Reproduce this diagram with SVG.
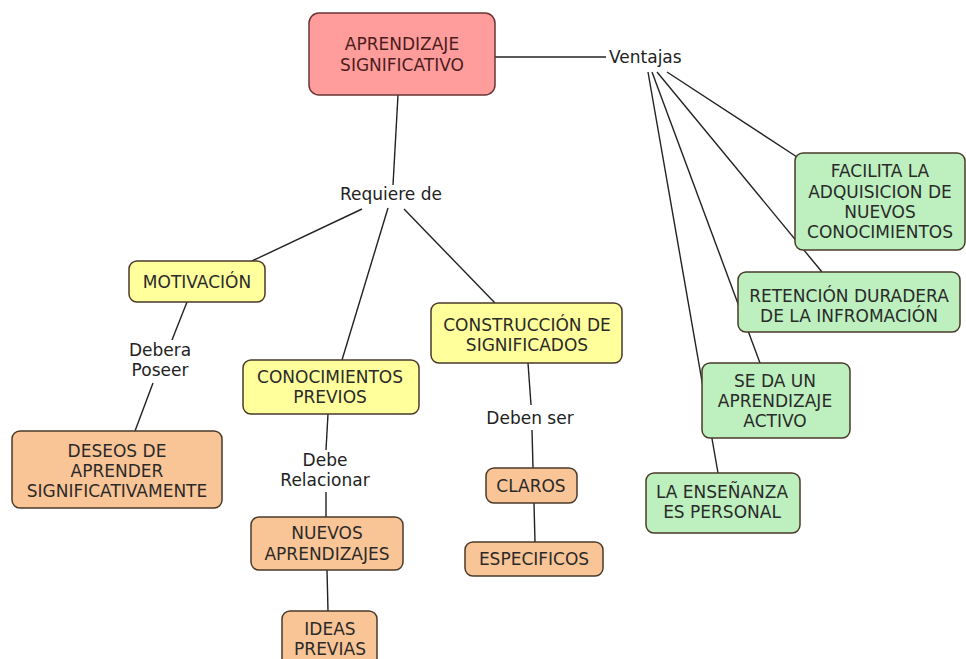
<svg xmlns="http://www.w3.org/2000/svg" width="966" height="659" viewBox="0 0 966 659">
<style>
  .box { stroke: #4a3a2a; stroke-width: 1.5; }
  .main { fill: #FF9C9C; stroke: #6a3535; stroke-width: 1.5; }
  .yel { fill: #FFFF9C; }
  .org { fill: #FAC596; }
  .grn { fill: #BDF0BE; }
  text { font-family: "DejaVu Sans", Verdana, sans-serif; font-size: 17px; fill: #2a2a2a; text-anchor: middle; }
  .mt { fill: #4a1c1c; }
  .lk { fill: #222; }
  .conn line { stroke: #222; stroke-width: 1.4; fill: none; }
</style>
<rect width="966" height="659" fill="#ffffff"/>
<g class="conn" id="connectors">
  <line x1="494" y1="57" x2="606" y2="57"/>
  <line x1="648" y1="72" x2="718" y2="473"/>
  <line x1="652" y1="72" x2="760" y2="363"/>
  <line x1="657" y1="72" x2="822" y2="272"/>
  <line x1="667" y1="72" x2="797" y2="157"/>
  <line x1="398" y1="95" x2="393" y2="185"/>
  <line x1="362" y1="209" x2="252" y2="261"/>
  <line x1="388" y1="208" x2="342" y2="360"/>
  <line x1="404" y1="209" x2="495" y2="303"/>
  <line x1="187" y1="302" x2="172" y2="340"/>
  <line x1="153" y1="383" x2="135" y2="431"/>
  <line x1="328" y1="414" x2="326" y2="450"/>
  <line x1="326" y1="492" x2="326" y2="517"/>
  <line x1="327" y1="570" x2="328" y2="611"/>
  <line x1="528" y1="363" x2="531" y2="405"/>
  <line x1="532" y1="430" x2="533" y2="468"/>
  <line x1="534" y1="503" x2="535" y2="542"/>
</g>
<g id="aprendizaje">
  <rect class="main" x="309" y="13" width="186" height="82" rx="10"/>
  <text class="mt" x="402" y="50">APRENDIZAJE</text>
  <text class="mt" x="402" y="71">SIGNIFICATIVO</text>
</g>
<g id="ventajas">
  <text class="lk" x="609" y="63" style="text-anchor:start">Ventajas</text>
</g>
<g id="requiere">
  <text class="lk" x="391" y="200">Requiere de</text>
</g>
<g id="motivacion">
  <rect class="box yel" x="129" y="261" width="136" height="41" rx="8"/>
  <text x="197" y="288">MOTIVACIÓN</text>
</g>
<g id="debera">
  <text class="lk" x="160" y="356">Debera</text>
  <text class="lk" x="160" y="376">Poseer</text>
</g>
<g id="deseos">
  <rect class="box org" x="12" y="431" width="210" height="77" rx="8"/>
  <text x="117" y="457">DESEOS DE</text>
  <text x="117" y="477">APRENDER</text>
  <text x="117" y="497">SIGNIFICATIVAMENTE</text>
</g>
<g id="conocimientos">
  <rect class="box yel" x="243" y="360" width="176" height="54" rx="8"/>
  <text x="330" y="383">CONOCIMIENTOS</text>
  <text x="330" y="403">PREVIOS</text>
</g>
<g id="debe">
  <text class="lk" x="325" y="466">Debe</text>
  <text class="lk" x="325" y="486">Relacionar</text>
</g>
<g id="nuevos">
  <rect class="box org" x="251" y="517" width="152" height="53" rx="8"/>
  <text x="327" y="539">NUEVOS</text>
  <text x="327" y="560">APRENDIZAJES</text>
</g>
<g id="ideas">
  <rect class="box org" x="282" y="611" width="95" height="62" rx="8"/>
  <text x="330" y="635">IDEAS</text>
  <text x="330" y="655">PREVIAS</text>
</g>
<g id="construccion">
  <rect class="box yel" x="431" y="303" width="191" height="60" rx="8"/>
  <text x="527" y="331">CONSTRUCCIÓN DE</text>
  <text x="527" y="351">SIGNIFICADOS</text>
</g>
<g id="deben">
  <text class="lk" x="530" y="424">Deben ser</text>
</g>
<g id="claros">
  <rect class="box org" x="486" y="468" width="91" height="35" rx="8"/>
  <text x="531" y="492">CLAROS</text>
</g>
<g id="especificos">
  <rect class="box org" x="465" y="542" width="138" height="34" rx="8"/>
  <text x="534" y="565">ESPECIFICOS</text>
</g>
<g id="facilita">
  <rect class="box grn" x="795" y="153" width="170" height="97" rx="8"/>
  <text x="880" y="177">FACILITA LA</text>
  <text x="880" y="198">ADQUISICION DE</text>
  <text x="880" y="218">NUEVOS</text>
  <text x="880" y="238">CONOCIMIENTOS</text>
</g>
<g id="retencion">
  <rect class="box grn" x="738" y="272" width="222" height="60" rx="8"/>
  <text x="849" y="302">RETENCIÓN DURADERA</text>
  <text x="849" y="322">DE LA INFROMACIÓN</text>
</g>
<g id="seda">
  <rect class="box grn" x="702" y="363" width="148" height="75" rx="8"/>
  <text x="775" y="387">SE DA UN</text>
  <text x="775" y="407">APRENDIZAJE</text>
  <text x="775" y="427">ACTIVO</text>
</g>
<g id="ensenanza">
  <rect class="box grn" x="646" y="473" width="154" height="60" rx="8"/>
  <text x="722" y="498">LA ENSEÑANZA</text>
  <text x="722" y="518">ES PERSONAL</text>
</g>
</svg>
